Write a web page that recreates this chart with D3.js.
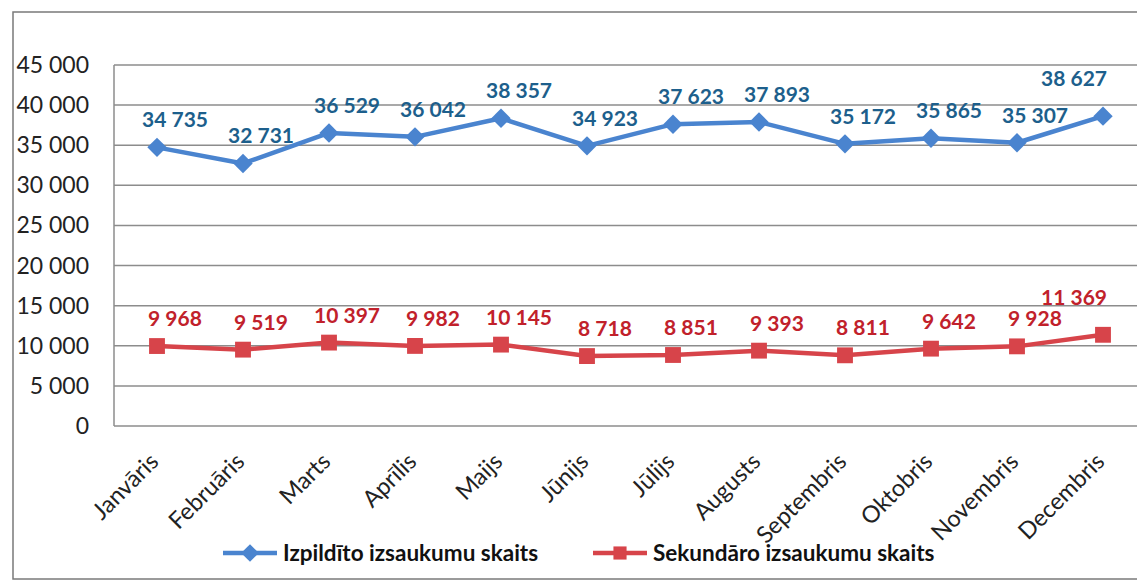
<html>
<head>
<meta charset="utf-8">
<script src="https://cdn.jsdelivr.net/npm/d3@7/dist/d3.min.js"></script>
<style>
  body { margin: 0; background: #fff; }
  text { font-family: Lato, "Open Sans", sans-serif; }
</style>
</head>
<body>
<div id="chart"></div>
<script>
// data
var months = ["Janvāris", "Februāris", "Marts", "Aprīlis", "Maijs", "Jūnijs",
              "Jūlijs", "Augusts", "Septembris", "Oktobris", "Novembris", "Decembris"];
var izpildito = [34735, 32731, 36529, 36042, 38357, 34923, 37623, 37893, 35172, 35865, 35307, 38627];
var sekundaro = [9968, 9519, 10397, 9982, 10145, 8718, 8851, 9393, 8811, 9642, 9928, 11369];
var yTicks = [0, 5000, 10000, 15000, 20000, 25000, 30000, 35000, 40000, 45000];
var seriesNames = ["Izpildīto izsaukumu skaits", "Sekundāro izsaukumu skaits"];

var w = 1137, h = 584;
var svg = d3.select("#chart").append("svg")
    .attr("width", w)
    .attr("height", h);

var x = d3.scaleBand().domain(months).range([114, 1146]);
var y = d3.scaleLinear().domain([0, 45000]).range([426, 65]);

function fmt(v) {
  return d3.format(",")(v).replace(/,/g, " ");
}

// outer chart border
svg.append("rect")
    .attr("x", 13).attr("y", 12)
    .attr("width", 1140).attr("height", 567)
    .attr("fill", "none").attr("stroke", "#7a7a7a").attr("stroke-width", 1.5);

// gridlines
svg.append("g").selectAll("line")
    .data(yTicks)
  .enter().append("line")
    .attr("x1", x.range()[0]).attr("x2", x.range()[1])
    .attr("y1", function(d) { return y(d); })
    .attr("y2", function(d) { return y(d); })
    .attr("stroke", "#8c8c8c").attr("stroke-width", 1.5);

// plot area left edge
svg.append("line")
    .attr("x1", x.range()[0]).attr("x2", x.range()[0])
    .attr("y1", y(45000)).attr("y2", y(0))
    .attr("stroke", "#8c8c8c").attr("stroke-width", 1.5);

// y axis labels
svg.append("g").selectAll("text")
    .data(yTicks)
  .enter().append("text")
    .attr("x", 89)
    .attr("y", function(d) { return y(d) + 8; })
    .attr("text-anchor", "end")
    .attr("font-size", 23)
    .attr("fill", "#222")
    .text(fmt);

// x axis labels
svg.append("g").selectAll("text")
    .data(months)
  .enter().append("text")
    .attr("text-anchor", "end")
    .attr("font-size", 23.5)
    .attr("fill", "#222")
    .attr("transform", function(d) {
      var cx = x(d) + x.bandwidth() / 2 + 3;
      return "translate(" + cx + ",463) rotate(-45)";
    })
    .text(function(d) { return d; });

var cx = function(d, i) { return x(months[i]) + x.bandwidth() / 2; };

var series = [
  { values: izpildito, line: "#4a84cf", label: "#1d5f8c", marker: "diamond" },
  { values: sekundaro, line: "#d7444a", label: "#c1212b", marker: "square" }
];

series.forEach(function(s) {
  var line = d3.line()
      .x(cx)
      .y(function(d) { return y(d); });

  svg.append("path")
      .datum(s.values)
      .attr("d", line)
      .attr("fill", "none")
      .attr("stroke", s.line)
      .attr("stroke-width", 4.5)
      .attr("stroke-linejoin", "round");

  var sym = d3.symbol()
      .type(s.marker == "diamond" ? d3.symbolDiamond2 : d3.symbolSquare2)
      .size(s.marker == "diamond" ? 240 : 320);

  svg.append("g").selectAll("path")
      .data(s.values)
    .enter().append("path")
      .attr("d", sym)
      .attr("transform", function(d, i) {
        return "translate(" + cx(d, i) + "," + y(d) + ")";
      })
      .attr("fill", s.line);

  var last = s.values.length - 1;
  svg.append("g").selectAll("text")
      .data(s.values)
    .enter().append("text")
      .attr("x", function(d, i) {
        return i == last ? cx(d, i) + 4 : cx(d, i) + 18;
      })
      .attr("y", function(d, i) { return y(d) - (i == last ? 30 : 20); })
      .attr("text-anchor", function(d, i) { return i == last ? "end" : "middle"; })
      .attr("font-size", 21)
      .attr("font-weight", "bold")
      .attr("fill", s.label)
      .text(fmt);
});

// legend
var legend = svg.append("g");
var legItems = [
  { name: seriesNames[0], color: series[0].line, marker: "diamond", x: 223 },
  { name: seriesNames[1], color: series[1].line, marker: "square", x: 593 }
];
legItems.forEach(function(it) {
  legend.append("line")
      .attr("x1", it.x).attr("x2", it.x + 54)
      .attr("y1", 553).attr("y2", 553)
      .attr("stroke", it.color).attr("stroke-width", 4.5);
  legend.append("path")
      .attr("d", d3.symbol()
          .type(it.marker == "diamond" ? d3.symbolDiamond2 : d3.symbolSquare2)
          .size(it.marker == "diamond" ? 200 : 220))
      .attr("transform", "translate(" + (it.x + 27) + ",553)")
      .attr("fill", it.color);
  legend.append("text")
      .attr("x", it.x + 60)
      .attr("y", 561)
      .attr("font-size", 22.5)
      .attr("font-weight", "bold")
      .attr("fill", "#111")
      .text(it.name);
});
</script>
</body>
</html>
